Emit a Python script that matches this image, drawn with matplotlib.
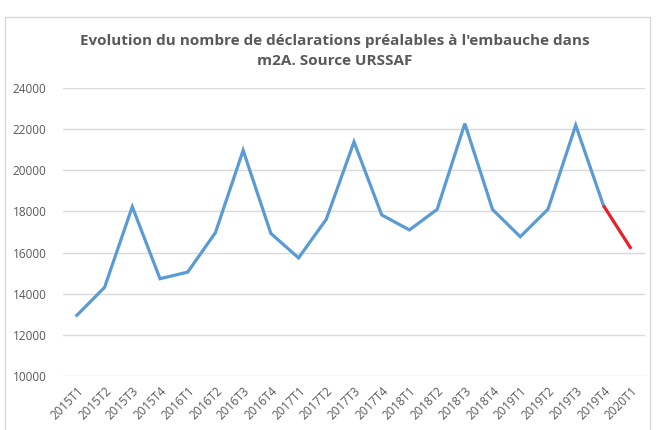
import matplotlib
matplotlib.use('Agg')
import matplotlib.pyplot as plt
from matplotlib.patches import Rectangle

# quarters shown on the x axis
quarters = ['2015T1', '2015T2', '2015T3', '2015T4',
            '2016T1', '2016T2', '2016T3', '2016T4',
            '2017T1', '2017T2', '2017T3', '2017T4',
            '2018T1', '2018T2', '2018T3', '2018T4',
            '2019T1', '2019T2', '2019T3', '2019T4',
            '2020T1']
# number of DPAE per quarter
dpae = [12950, 14310, 18230, 14730,
        15050, 16970, 20970, 16930,
        15740, 17620, 21380, 17830,
        17100, 18100, 22270, 18090,
        16770, 18110, 22190, 18290,
        16180]
y_ticks = [10000, 12000, 14000, 16000, 18000, 20000, 22000, 24000]

title = "Evolution du nombre de déclarations préalables à l'embauche dans\nm2A. Source URSSAF"

gray = '#595959'
plt.rcParams['font.family'] = ['Open Sans', 'DejaVu Sans']

fig = plt.figure(figsize=(6.59, 4.30), dpi=100)
ax = fig.add_axes([63 / 659, 1 - 376 / 430, 582 / 659, 288 / 430])

x = list(range(len(quarters)))
# last segment (most recent quarter) in red
ax.plot(x[:-1], dpae[:-1], color='#5B9BD5', lw=2.3, solid_joinstyle='miter', zorder=3)
ax.plot(x[-2:], dpae[-2:], color='#E8202A', lw=2.3, solid_capstyle='butt', zorder=3)

ax.set_ylim(10000, 24000)
ax.set_xlim(-0.5, len(quarters) - 0.5)
ax.set_yticks(y_ticks)
ax.set_xticks(x)
ax.set_xticklabels(quarters, rotation=45, ha='right', rotation_mode='anchor')
ax.tick_params(length=0, labelsize=8.5, labelcolor=gray)
ax.tick_params(axis='y', pad=12)
ax.tick_params(axis='x', pad=6)
ax.grid(axis='y', color='#D9D9D9', lw=1)
ax.set_axisbelow(True)
for s in ax.spines.values():
    s.set_visible(False)

fig.text(335 / 659, 1 - 51 / 430, title, ha='center', va='center',
         fontsize=11, fontweight='bold', color=gray, linespacing=1.5)

# chart border
fig.patches.append(Rectangle((5 / 659, -0.05), 645 / 659, 1 - 17 / 430 + 0.05,
                             transform=fig.transFigure, fill=False,
                             edgecolor='#D9D9D9', lw=1))

fig.savefig('out.png', dpi=100)
